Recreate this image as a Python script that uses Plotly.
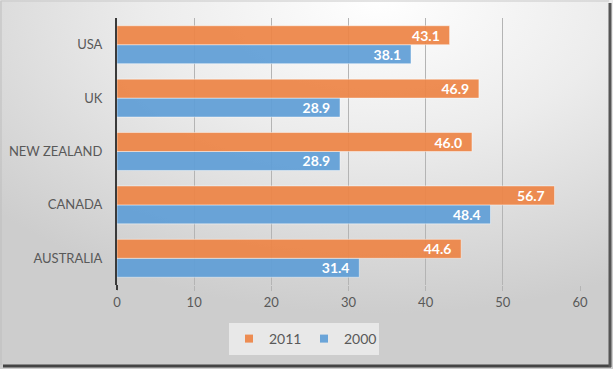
import base64
import plotly.graph_objects as go

countries = ["AUSTRALIA", "CANADA", "NEW ZEALAND", "UK", "USA"]
values_2011 = [44.6, 56.7, 46.0, 46.9, 43.1]
values_2000 = [31.4, 48.4, 28.9, 28.9, 38.1]
x_ticks = [0, 10, 20, 30, 40, 50, 60]

W, H = 613, 369
ML, MR, MT, MB = 117, 33, 18, 84
PW, PH = W - ML - MR, H - MT - MB

ORANGE = "rgba(237,132,70,0.93)"
BLUE = "rgba(96,158,214,0.93)"


def px(xp):
    return (xp - ML) / PW


def py(yp):
    return 1 - (yp - MT) / PH


svg = f"""<svg xmlns='http://www.w3.org/2000/svg' width='{W}' height='{H}' viewBox='0 0 {W} {H}' preserveAspectRatio='none'>
<defs><radialGradient id='g' cx='0.62' cy='0.0' r='0.85' gradientUnits='objectBoundingBox'>
<stop offset='0' stop-color='#ffffff'/><stop offset='0.45' stop-color='#ececec'/><stop offset='1' stop-color='#cdcdcd'/>
</radialGradient></defs>
<rect x='0' y='0' width='{W}' height='{H}' fill='url(#g)'/>
</svg>"""
uri = "data:image/svg+xml;base64," + base64.b64encode(svg.encode()).decode()

FONT = "Lato, 'Liberation Sans', sans-serif"

fig = go.Figure()
for name, vals, col in [("2000", values_2000, BLUE), ("2011", values_2011, ORANGE)]:
    fig.add_trace(go.Bar(
        y=countries, x=vals, name=name, orientation="h", showlegend=False,
        marker=dict(color=col, line=dict(color="rgba(255,255,255,0.45)", width=1)),
        text=[f"{v:.1f}\u00a0\u00a0" for v in vals], textposition="inside",
        insidetextanchor="end", textangle=0, constraintext="none",
        textfont=dict(color="white", size=14, family=FONT, weight="bold"),
    ))

# legend entries (square markers like the original)
for name, col in [("2011", ORANGE), ("2000", BLUE)]:
    fig.add_trace(go.Scatter(
        x=[None], y=[None], mode="markers", name=name,
        marker=dict(symbol="square", size=8, color=col), showlegend=True,
    ))

fig.update_layout(
    width=W, height=H,
    margin=dict(l=ML, r=MR, t=MT, b=MB, autoexpand=False),
    paper_bgcolor="#d6d6d6",
    plot_bgcolor="rgba(0,0,0,0)",
    barmode="group", bargap=0.29, bargroupgap=0,
    font=dict(family=FONT, size=13, color="#595959"),
    showlegend=True,
    legend=dict(orientation="h", traceorder="normal", x=px(304), xanchor="center",
                y=py(339), yanchor="middle", bgcolor="rgba(236,236,236,0.85)",
                font=dict(size=14, color="#595959"), itemwidth=30, tracegroupgap=0,
                entrywidth=30, entrywidthmode="pixels"),
    images=[dict(source=uri, xref="paper", yref="paper", x=px(0), y=py(0),
                 sizex=W / PW, sizey=H / PH, xanchor="left", yanchor="top",
                 sizing="stretch", layer="below")],
    xaxis=dict(range=[0, 60], tickvals=x_ticks, showgrid=True, gridcolor="#b4b4b4", gridwidth=1,
               zeroline=False, showline=False, ticks="outside", ticklen=5, tickcolor="#b4b4b4",
               tickfont=dict(size=13, color="#595959"), fixedrange=True),
    yaxis=dict(showline=True, linecolor="#3a3a3a", linewidth=2, ticks="", ticklabelstandoff=10,
               tickfont=dict(size=13, color="#595959"), fixedrange=True, range=[-0.5, 4.5]),
    shapes=[
        dict(type="line", xref="paper", yref="paper", x0=px(ML), x1=px(ML), y0=py(MT + PH), y1=py(MT + PH + 5),
             line=dict(color="#3a3a3a", width=2)),
        dict(type="line", xref="paper", yref="paper", x0=px(3), x1=px(611), y0=py(366), y1=py(366),
             line=dict(color="#444444", width=3)),
        dict(type="line", xref="paper", yref="paper", x0=px(610), x1=px(610), y0=py(3), y1=py(367),
             line=dict(color="#555555", width=3)),
        dict(type="line", xref="paper", yref="paper", x0=px(1), x1=px(1), y0=py(1), y1=py(365),
             line=dict(color="#bdbdbd", width=1)),
        dict(type="line", xref="paper", yref="paper", x0=px(1), x1=px(609), y0=py(1), y1=py(1),
             line=dict(color="#c8c8c8", width=1)),
    ],
)

fig.write_html("out.html", config={"displayModeBar": False},
               post_script="document.body.style.margin='0';document.body.style.overflow='hidden';")
